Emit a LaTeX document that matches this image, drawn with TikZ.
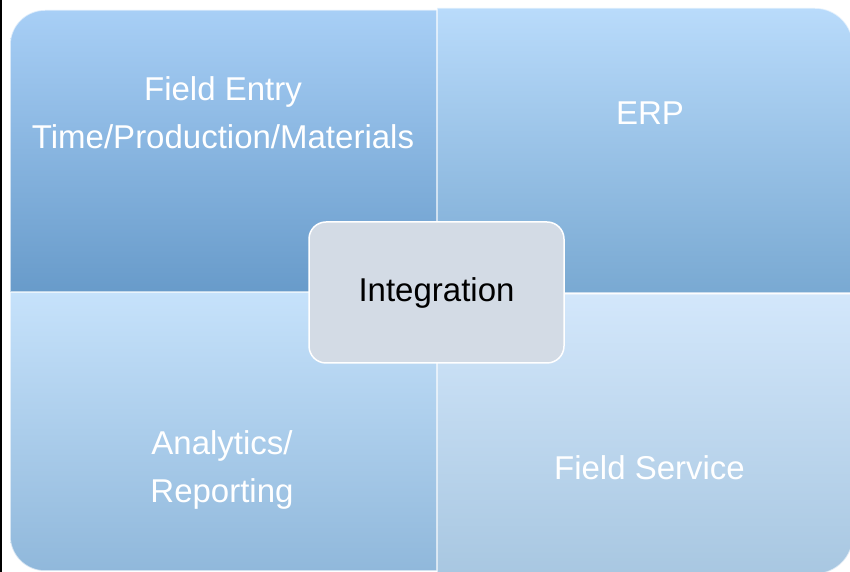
\documentclass[tikz,border=0pt]{standalone}
\usepackage{fontspec}
\setmainfont{Liberation Sans}
\usetikzlibrary{positioning}

\begin{document}
\begin{tikzpicture}[x=1pt, y=1pt, every node/.style={font=\fontsize{33}{48}\selectfont}]
    % Define colors
    \definecolor{fieldtop}{RGB}{168, 207, 246}
    \definecolor{fieldbottom}{RGB}{104, 155, 202}
    \definecolor{erptop}{RGB}{185, 219, 251}
    \definecolor{erpbottom}{RGB}{121, 169, 210}
    \definecolor{reporttop}{RGB}{198, 226, 251}
    \definecolor{reportbottom}{RGB}{144, 184, 219}
    \definecolor{servicetop}{RGB}{211, 231, 251}
    \definecolor{servicebottom}{RGB}{168, 199, 225}
    \definecolor{integfill}{RGB}{211, 219, 229}

    \useasboundingbox (0, 0) rectangle (850, 572);

    % Slide edge
    \draw[line width=2pt] (1, 0) -- (1, 572);

    % Quadrant: Analytics/Reporting (bottom left)
    \shade[top color=reporttop, bottom color=reportbottom, draw=white, draw opacity=0.6, line width=1.5pt]
        (10, 280) -- (10, 36) arc[start angle=180, end angle=270, radius=35] -- (437, 1) -- (437, 280) -- cycle;

    % Quadrant: Field Service (bottom right)
    \shade[top color=servicetop, bottom color=servicebottom, draw=white, draw opacity=0.6, line width=1.5pt]
        (437, 278) -- (437, -2) -- (815, -2) arc[start angle=270, end angle=360, radius=38] -- (853, 278) -- cycle;

    % Quadrant: Field Entry (top left)
    \shade[top color=fieldtop, bottom color=fieldbottom, draw=white, draw opacity=0.6, line width=1.5pt]
        (10, 280) -- (10, 527) arc[start angle=180, end angle=90, radius=35] -- (437, 562) -- (437, 280) -- cycle;

    % Quadrant: ERP (top right)
    \shade[top color=erptop, bottom color=erpbottom, draw=white, draw opacity=0.6, line width=1.5pt]
        (437, 279) -- (437, 564) -- (815, 564) arc[start angle=90, end angle=0, radius=38] -- (853, 279) -- cycle;

    % Labels
    \node[white, align=center] (fieldentry) at (223, 459) {Field Entry\\Time/Production/Materials};
    \node[white, anchor=base] (erp) at (650, 447) {ERP};
    \node[white, align=center] (analytics) at (222, 102) {Analytics/\\Reporting};
    \node[white, anchor=base] (fieldservice) at (649.5, 92) {Field Service};

    % Integration hub
    \node[draw=white, line width=1.5pt, fill=integfill, rounded corners=17pt,
          minimum width=255pt, minimum height=141pt] (integration) at (436.5, 279.5) {Integration};

\end{tikzpicture}
\end{document}
